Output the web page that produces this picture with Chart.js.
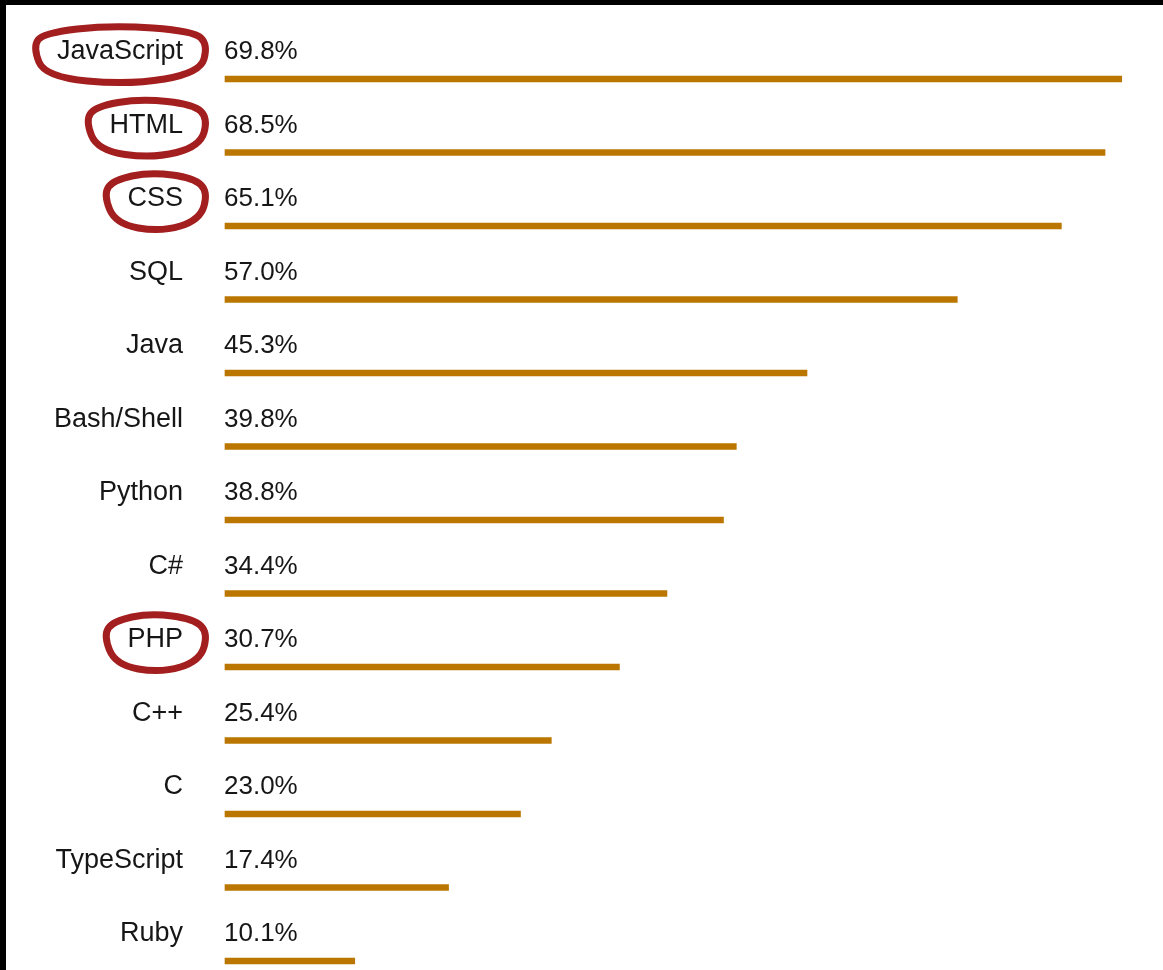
<!DOCTYPE html>
<html>
<head>
<meta charset="utf-8">
<script src="https://cdn.jsdelivr.net/npm/chart.js@4/dist/chart.umd.min.js"></script>
<style>
  html, body { margin: 0; padding: 0; background: #000; }
  #wrap { position: absolute; left: 6px; top: 5px; width: 1157px; height: 965px; background: #fff; }
  canvas { display: block; }
</style>
</head>
<body>
<div id="wrap"><canvas id="c" width="1157" height="965"></canvas></div>
<script>
const languages = ['JavaScript', 'HTML', 'CSS', 'SQL', 'Java', 'Bash/Shell', 'Python', 'C#', 'PHP', 'C++', 'C', 'TypeScript', 'Ruby'];
const usage = [69.8, 68.5, 65.1, 57.0, 45.3, 39.8, 38.8, 34.4, 30.7, 25.4, 23.0, 17.4, 10.1];
const circled = ['JavaScript', 'HTML', 'CSS', 'PHP'];

const FONT = '"Liberation Sans", Arial, Helvetica, sans-serif';
const LABEL_SIZE = 27;
const VALUE_SIZE = 26;
const LABEL_SHIFT = -27;
const BAR_COLOR = '#bb7600';
const TEXT_COLOR = '#161616';

const valueLabels = {
  id: 'valueLabels',
  afterDatasetsDraw(chart) {
    const ctx = chart.ctx;
    const meta = chart.getDatasetMeta(0);
    ctx.save();
    ctx.font = VALUE_SIZE + 'px ' + FONT;
    ctx.fillStyle = TEXT_COLOR;
    ctx.textAlign = 'left';
    ctx.textBaseline = 'middle';
    meta.data.forEach((el, i) => {
      ctx.fillText(usage[i].toFixed(1) + '%', chart.chartArea.left - 1, el.y + LABEL_SHIFT);
    });
    ctx.restore();
  }
};

const loops = {
  id: 'loops',
  afterDraw(chart) {
    const ctx = chart.ctx;
    const ys = chart.scales.y;
    ctx.save();
    ctx.font = LABEL_SIZE + 'px ' + FONT;
    ctx.strokeStyle = '#a31e1e';
    ctx.lineWidth = 7;
    ctx.lineJoin = 'round';
    ctx.lineCap = 'round';
    const right = ys.right - 42;
    circled.forEach((name) => {
      const idx = languages.indexOf(name);
      const cy = ys.getPixelForValue(idx) + LABEL_SHIFT;
      const w = ctx.measureText(name).width;
      const l = right - w - 24;
      const r = right + 25;
      const t = cy - 27;
      const b = cy + 33;
      const pts = [
        [l + 10, t + 8], [l + (r - l) * 0.45, t], [r - 14, t + 6], [r, t + 20],
        [r - 8, b - 12], [l + (r - l) * 0.55, b], [l + 12, b - 8], [l, t + 22]
      ];
      ctx.beginPath();
      const n = pts.length;
      const mid = (a, c) => [(a[0] + c[0]) / 2, (a[1] + c[1]) / 2];
      const m0 = mid(pts[n - 1], pts[0]);
      ctx.moveTo(m0[0], m0[1]);
      for (let i = 0; i < n; i++) {
        const p = pts[i];
        const m = mid(p, pts[(i + 1) % n]);
        ctx.quadraticCurveTo(p[0], p[1], m[0], m[1]);
      }
      ctx.closePath();
      ctx.stroke();
    });
    ctx.restore();
  }
};

function draw() {
  new Chart(document.getElementById('c'), {
    type: 'bar',
    data: {
      labels: languages,
      datasets: [{
        data: usage,
        backgroundColor: BAR_COLOR,
        borderWidth: 0,
        barThickness: 6,
        clip: false
      }]
    },
    options: {
      indexAxis: 'y',
      responsive: false,
      animation: false,
      layout: { padding: { left: 0, top: 74, bottom: 9, right: 13 } },
      plugins: { legend: { display: false }, tooltip: { enabled: false } },
      scales: {
        x: {
          min: 0, max: 72,
          display: false,
          grid: { display: false }
        },
        y: {
          offset: false,
          border: { display: false },
          grid: { display: false, drawTicks: true, tickLength: 42 },
          afterFit(scale) { scale.width = 219; scale.paddingTop = 0; scale.paddingBottom = 0; },
          ticks: {
            padding: 0,
            labelOffset: LABEL_SHIFT,
            color: TEXT_COLOR,
            font: { family: FONT, size: LABEL_SIZE }
          }
        }
      }
    },
    plugins: [valueLabels, loops]
  });
}

if (document.fonts && document.fonts.load) {
  document.fonts.load('27px "Liberation Sans"').then(draw, draw);
} else {
  draw();
}
</script>
</body>
</html>
